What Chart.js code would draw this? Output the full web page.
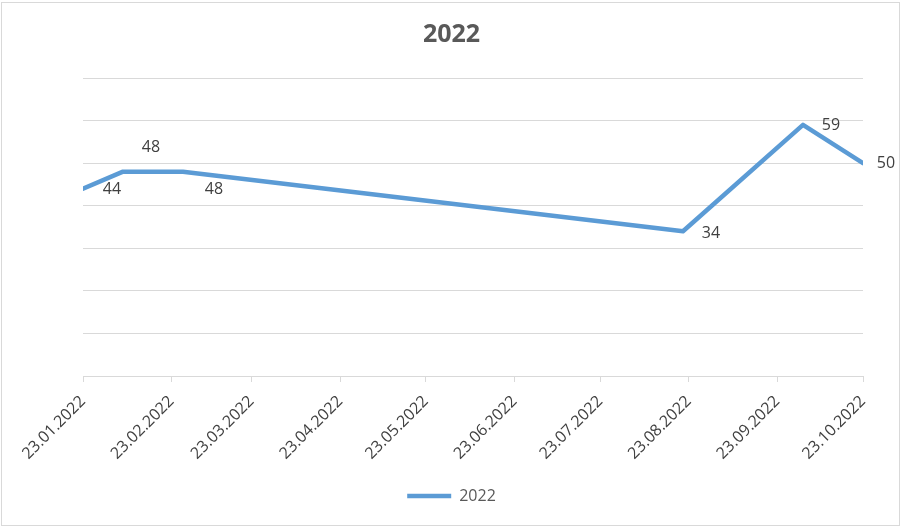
<!DOCTYPE html>
<html>
<head>
<meta charset="utf-8">
<script src="https://cdn.jsdelivr.net/npm/chart.js@4"></script>
<style>
    html, body { margin: 0; padding: 0; background: #ffffff; }
    #quadro { position: relative; width: 903px; height: 528px; }
    #moldura {
        position: absolute; left: 1px; top: 2px; width: 897px; height: 522px;
        border: 1px solid #d9d9d9; pointer-events: none;
    }
</style>
</head>
<body>
<div id="quadro">
    <canvas id="grafico2022" width="903" height="528"></canvas>
    <div id="moldura"></div>
</div>
<script>
// ==========================================
// 1. DADOS
// ==========================================
const datas = ['23.01.2022', '06.02.2022', '27.02.2022', '21.08.2022', '02.10.2022', '23.10.2022'];
const valores = [44, 48, 48, 34, 59, 50];
const rotulosEixo = ['23.01.2022', '23.02.2022', '23.03.2022', '23.04.2022', '23.05.2022',
                     '23.06.2022', '23.07.2022', '23.08.2022', '23.09.2022', '23.10.2022'];
const nomeSerie = '2022';

// dias contados a partir da primeira data do eixo
function paraDias(texto) {
    const [d, m, a] = texto.split('.').map(Number);
    const [d0, m0, a0] = rotulosEixo[0].split('.').map(Number);
    return Math.round((Date.UTC(a, m - 1, d) - Date.UTC(a0, m0 - 1, d0)) / 86400000);
}

const corTexto = '#595959';
const corEixo = '#404040';
const corGrade = '#d9d9d9';
const fonte = "'Open Sans', 'Noto Sans', sans-serif";

// deslocamento de cada rótulo em relação ao ponto (estilo, não dado)
const deslocRotulos = [[29, 1], [28, -24], [31, 18], [28, 2], [28, 1], [23, 0]];

// ==========================================
// 2. RÓTULOS DE DADOS (plugin simples)
// ==========================================
const rotulosDados = {
    id: 'rotulosDados',
    afterDatasetsDraw(chart) {
        const ctx = chart.ctx;
        const meta = chart.getDatasetMeta(0);
        ctx.save();
        ctx.font = `16px ${fonte}`;
        ctx.fillStyle = '#404040';
        ctx.textAlign = 'center';
        ctx.textBaseline = 'middle';
        meta.data.forEach((ponto, i) => {
            const [dx, dy] = deslocRotulos[i];
            ctx.fillText(String(valores[i]), ponto.x + dx, ponto.y + dy);
        });
        ctx.restore();
    }
};

// ==========================================
// 3. GRÁFICO
// ==========================================
const ctxGrafico = document.getElementById('grafico2022').getContext('2d');

new Chart(ctxGrafico, {
    type: 'line',
    data: {
        datasets: [{
            label: nomeSerie,
            data: datas.map((d, i) => ({ x: paraDias(d), y: valores[i] })),
            borderColor: '#5b9bd5',
            backgroundColor: '#5b9bd5',
            borderWidth: 4.5,
            borderCapStyle: 'round',
            borderJoinStyle: 'round',
            pointRadius: 0,
            tension: 0,
            fill: false
        }]
    },
    options: {
        responsive: false,
        animation: false,
        layout: { padding: { left: 40, right: 40, top: 0, bottom: 14 } },
        plugins: {
            title: {
                display: true,
                text: nomeSerie,
                color: corTexto,
                font: { family: fonte, size: 25, weight: 'bold' },
                padding: { top: 20, bottom: 28 }
            },
            legend: {
                position: 'bottom',
                labels: {
                    usePointStyle: true,
                    pointStyle: 'line',
                    pointStyleWidth: 44,
                    color: corTexto,
                    font: { family: fonte, size: 16 },
                    padding: 10
                }
            },
            tooltip: { enabled: false }
        },
        scales: {
            x: {
                type: 'linear',
                min: 0,
                max: paraDias(rotulosEixo[rotulosEixo.length - 1]),
                afterBuildTicks: (escala) => {
                    escala.ticks = rotulosEixo.map(r => ({ value: paraDias(r) }));
                },
                afterFit: (escala) => {
                    escala.height = 102;
                    escala.paddingLeft = 0;
                    escala.paddingRight = 0;
                },
                ticks: {
                    autoSkip: false,
                    minRotation: 45,
                    maxRotation: 45,
                    color: corEixo,
                    font: { family: fonte, size: 16 },
                    padding: 10,
                    callback: (valor) => rotulosEixo.find(r => paraDias(r) === valor) || ''
                },
                grid: { drawOnChartArea: false, color: corGrade, tickLength: 6 },
                border: { color: corGrade, width: 1 }
            },
            y: {
                min: 0,
                max: 70,
                afterFit: (escala) => { escala.width = 43; },
                ticks: { display: false, stepSize: 10 },
                grid: { color: corGrade, drawTicks: false },
                border: { display: false }
            }
        }
    },
    plugins: [rotulosDados]
});
</script>
</body>
</html>
